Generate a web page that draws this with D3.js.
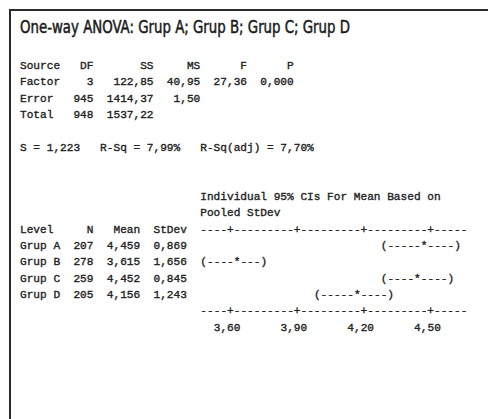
<!DOCTYPE html>
<html>
<head>
<meta charset="utf-8">
<script src="https://cdn.jsdelivr.net/npm/d3@7"></script>
<style>
  html, body { margin: 0; padding: 0; background: #fff; }
  svg { display: block; }
  .mono { font-family: "Liberation Mono", "DejaVu Sans Mono", monospace; font-size: 11.13px; fill: #222; stroke: #222; stroke-width: 0.35px; white-space: pre; }
</style>
</head>
<body>
<svg id="chart" width="488" height="419"></svg>
<script>
// ---------- data ----------
const title = "One-way ANOVA: Grup A; Grup B; Grup C; Grup D";
const anovaSources = ["Factor", "Error", "Total"];
const anovaDF = [3, 945, 948];
const anovaSS = [122.85, 1414.37, 1537.22];
const anovaMS = [40.95, 1.50, null];
const anovaF = [27.36, null, null];
const anovaP = [0.000, null, null];
const pooledS = 1.223;
const rSq = 7.99;
const rSqAdj = 7.70;
const groups = ["Grup A", "Grup B", "Grup C", "Grup D"];
const groupN = [207, 278, 259, 205];
const groupMean = [4.459, 3.615, 4.452, 4.156];
const groupStDev = [0.869, 1.656, 0.845, 1.243];
const ciLow = [4.292, 3.471, 4.303, 3.989];
const ciHigh = [4.626, 3.759, 4.601, 4.323];
const tickValues = [3.60, 3.90, 4.20, 4.50];

// ---------- layout ----------
const svg = d3.select("#chart");
const cw = 6.68, x0 = 20, y0 = 69, lh = 16.35;
const colX = c => x0 + c * cw;
const rowY = r => y0 + r * lh;
const loc = d3.formatLocale({decimal: ",", thousands: "", grouping: [3], currency: ["", ""]});
const f2 = loc.format(".2f"), f3 = loc.format(".3f");
const pad = (v, n) => String(v).padStart(n, " ");

// frame
svg.append("line").attr("x1", 10).attr("x2", 488).attr("y1", 10).attr("y2", 10)
  .attr("stroke", "#2a2a2a").attr("stroke-width", 2);
svg.append("line").attr("x1", 10).attr("x2", 10).attr("y1", 9).attr("y2", 419)
  .attr("stroke", "#2a2a2a").attr("stroke-width", 2);

// title
svg.append("text").attr("x", 20).attr("y", 33)
  .attr("textLength", 330).attr("lengthAdjust", "spacingAndGlyphs")
  .style("font-family", "'DejaVu Sans Condensed', 'Liberation Sans Narrow', 'Liberation Sans', sans-serif")
  .style("font-size", "18px").style("fill", "#1a1a1a")
  .style("stroke", "#1a1a1a").style("stroke-width", "0.5px")
  .text(title);

// text lines
const lines = [];
lines.push([0, "Source" + pad("DF", 5) + pad("SS", 9) + pad("MS", 7) + pad("F", 7) + pad("P", 7)]);
anovaSources.forEach((s, i) => {
  let t = s.padEnd(6, " ") + pad(anovaDF[i], 5) + pad(f2(anovaSS[i]), 9);
  if (anovaMS[i] != null) t += pad(f2(anovaMS[i]), 7);
  if (anovaF[i] != null) t += pad(f2(anovaF[i]), 7);
  if (anovaP[i] != null) t += pad(f3(anovaP[i]), 7);
  lines.push([1 + i, t]);
});
lines.push([5, "S = " + f3(pooledS) + "   R-Sq = " + f2(rSq) + "%   R-Sq(adj) = " + f2(rSqAdj) + "%"]);
lines.push([8, " ".repeat(27) + "Individual 95% CIs For Mean Based on"]);
lines.push([9, " ".repeat(27) + "Pooled StDev"]);
lines.push([10, "Level".padEnd(6, " ") + pad("N", 5) + pad("Mean", 7) + pad("StDev", 7)]);
groups.forEach((g, i) => {
  lines.push([11 + i, g.padEnd(6, " ") + pad(groupN[i], 5) + pad(f3(groupMean[i]), 7) + pad(f3(groupStDev[i]), 7)]);
});

svg.append("g").selectAll("text").data(lines).join("text")
  .attr("class", "mono")
  .attr("xml:space", "preserve")
  .attr("x", x0).attr("y", d => rowY(d[0]))
  .text(d => d[1]);

// value scale -> character column
const xs = d3.scaleLinear().domain([3.60, 4.50]).range([31, 61]);
const axStart = 27, axEnd = 67;
const tickCols = tickValues.map(v => Math.round(xs(v)));
const axisStr = d3.range(axStart, axEnd).map(c => tickCols.includes(c) ? "+" : "-").join("");

const axisRows = [10, 15];
svg.append("g").selectAll("text").data(axisRows).join("text")
  .attr("class", "mono").attr("xml:space", "preserve")
  .attr("x", colX(axStart)).attr("y", r => rowY(r))
  .text(axisStr);

svg.append("g").selectAll("text").data(tickValues).join("text")
  .attr("class", "mono").attr("xml:space", "preserve")
  .attr("x", v => colX(Math.round(xs(v)) - 2)).attr("y", rowY(16))
  .text(v => f2(v));

// CI marks
const ciData = groups.map((g, i) => {
  const lo = Math.round(xs(ciLow[i])), hi = Math.round(xs(ciHigh[i])), m = Math.round(xs(groupMean[i]));
  let s = "";
  for (let c = lo; c <= hi; c++) s += (c === lo ? "(" : c === hi ? ")" : c === m ? "*" : "-");
  return {row: 11 + i, lo, s};
});
svg.append("g").selectAll("text").data(ciData).join("text")
  .attr("class", "mono").attr("xml:space", "preserve")
  .attr("x", d => colX(d.lo)).attr("y", d => rowY(d.row))
  .text(d => d.s);
</script>
</body>
</html>
